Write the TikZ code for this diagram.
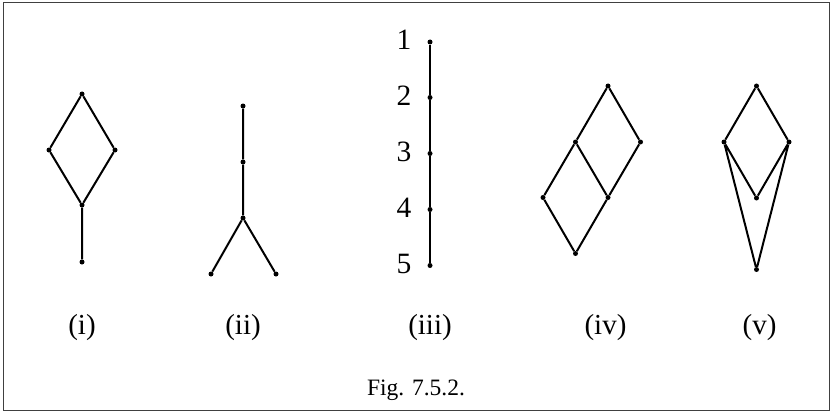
\documentclass[tikz,border=0pt]{standalone}
\usepackage{fontspec}
\setmainfont{Liberation Serif}
\begin{document}
\begin{tikzpicture}[x=1pt,y=-1pt,
  dot/.style={circle,fill=black,inner sep=0pt,minimum size=5pt},
  edge/.style={line width=2pt},
  lbl/.style={font=\fontsize{29}{32}\selectfont,inner sep=0pt},
  num/.style={font=\fontsize{29.5}{32}\selectfont,inner sep=0pt},
  figcap/.style={font=\fontsize{23.5}{26}\selectfont,inner sep=0pt}]
\useasboundingbox (0,0) rectangle (833,412);
\draw[line width=1pt,black!75] (3,3) rectangle (829.7,410.7);
% (i)
\node[dot] (a1) at (82,94) {};
\node[dot] (a2) at (49,150) {};
\node[dot] (a3) at (115,150) {};
\node[dot] (a4) at (82,205) {};
\node[dot] (a5) at (82,262) {};
\draw[edge] (a1)--(a2) (a1)--(a3) (a2)--(a4) (a3)--(a4) (a4)--(a5);
% (ii)
\node[dot] (b1) at (243,106) {};
\node[dot] (b2) at (243,162) {};
\node[dot] (b3) at (243,218) {};
\node[dot] (b4) at (211,274) {};
\node[dot] (b5) at (276,274) {};
\draw[edge] (b1)--(b2) (b2)--(b3) (b3)--(b4) (b3)--(b5);
% (iii)
\node[dot] (c1) at (430,42) {};
\node[dot] (c2) at (430,97.5) {};
\node[dot] (c3) at (430,153.5) {};
\node[dot] (c4) at (430,209.5) {};
\node[dot] (c5) at (430,265.5) {};
\draw[edge] (c1)--(c2) (c2)--(c3) (c3)--(c4) (c4)--(c5);
\node[num] (n1) at (404,40) {1};
\node[num] (n2) at (404,96) {2};
\node[num] (n3) at (404,152) {3};
\node[num] (n4) at (404,208) {4};
\node[num] (n5) at (404,264) {5};
% (iv)
\node[dot] (d1) at (608,86) {};
\node[dot] (d2) at (575.5,142) {};
\node[dot] (d3) at (640.5,142) {};
\node[dot] (d4) at (543,197.5) {};
\node[dot] (d5) at (608,197.5) {};
\node[dot] (d6) at (575.5,253.5) {};
\draw[edge] (d1)--(d2) (d1)--(d3) (d2)--(d4) (d2)--(d5) (d3)--(d5) (d4)--(d6) (d5)--(d6);
% (v)
\node[dot] (e1) at (756.5,86) {};
\node[dot] (e2) at (724,142) {};
\node[dot] (e3) at (789,142) {};
\node[dot] (e4) at (756.5,198) {};
\node[dot] (e5) at (756.5,269.5) {};
\draw[edge] (e1)--(e2) (e1)--(e3) (e2)--(e4) (e3)--(e4) (e2)--(e5) (e3)--(e5);
% labels
\node[lbl] (l1) at (82,328) {(i)};
\node[lbl] (l2) at (243,328) {(ii)};
\node[lbl] (l3) at (430,328) {(iii)};
\node[lbl] (l4) at (605.5,328) {(iv)};
\node[lbl] (l5) at (759.5,328) {(v)};
\node[figcap] (fig) at (416,390) {Fig. 7.5.2.};
\end{tikzpicture}
\end{document}
